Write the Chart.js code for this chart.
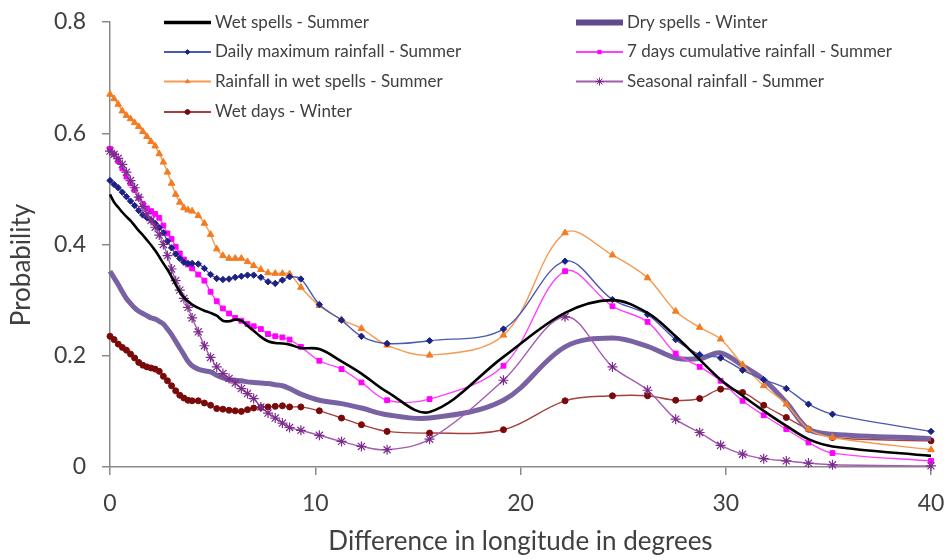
<!DOCTYPE html>
<html>
<head>
<meta charset="utf-8">
<title>Probability vs difference in longitude</title>
<script src="https://cdn.jsdelivr.net/npm/chart.js@4.4.1/dist/chart.umd.min.js"></script>
<style>
  html, body { margin: 0; padding: 0; background: #ffffff; }
  #wrap { width: 948px; height: 559px; }
</style>
</head>
<body>
<div id="wrap"><canvas id="chart" width="948" height="559"></canvas></div>
<script>
// Difference in longitude (degrees) at which each probability was evaluated
const longitudeDiff = [
  0, 0.2, 0.4, 0.6, 0.8, 1.0, 1.2, 1.4, 1.6, 1.8, 2.0, 2.2, 2.4, 2.6, 2.8,
  3.0, 3.2, 3.4, 3.6, 3.8, 4.0, 4.3, 4.6, 4.9, 5.2, 5.5, 5.8, 6.1, 6.4, 6.7,
  7.0, 7.35, 7.7, 8.05, 8.4, 8.75, 9.3, 10.2, 11.28, 12.25, 13.5, 15.57,
  19.17, 22.17, 24.48, 26.19, 27.56, 28.73, 29.75, 30.82, 31.85, 32.95,
  34.03, 35.2, 40
];

const wetSpellsSummer = [
  0.490, 0.476, 0.467, 0.458, 0.450, 0.443, 0.434, 0.425, 0.417, 0.408, 0.399, 0.389, 0.378, 0.366, 0.355,
  0.342, 0.328, 0.315, 0.305, 0.298, 0.292, 0.286, 0.281, 0.277, 0.272, 0.263, 0.262, 0.265, 0.263, 0.254,
  0.245, 0.234, 0.226, 0.223, 0.222, 0.220, 0.214, 0.212, 0.190, 0.168, 0.135, 0.099,
  0.198, 0.277, 0.300, 0.277, 0.235, 0.193, 0.157, 0.128, 0.101, 0.074,
  0.050, 0.037, 0.020
];

const drySpellsWinter = [
  0.352, 0.340, 0.328, 0.315, 0.303, 0.294, 0.286, 0.280, 0.276, 0.272, 0.268, 0.266, 0.262, 0.257, 0.248,
  0.238, 0.226, 0.214, 0.202, 0.190, 0.182, 0.176, 0.173, 0.171, 0.165, 0.160, 0.157, 0.156, 0.155, 0.153,
  0.152, 0.151, 0.150, 0.148, 0.146, 0.141, 0.131, 0.120, 0.114, 0.106, 0.094, 0.088,
  0.120, 0.216, 0.232, 0.217, 0.196, 0.195, 0.205, 0.182, 0.157, 0.116,
  0.068, 0.059, 0.051
];

const dailyMaxRainSummer = [
  0.515, 0.508, 0.502, 0.494, 0.486, 0.478, 0.470, 0.461, 0.453, 0.448, 0.444, 0.438, 0.430, 0.421, 0.406,
  0.394, 0.383, 0.375, 0.368, 0.366, 0.366, 0.365, 0.357, 0.346, 0.339, 0.337, 0.338, 0.341, 0.343, 0.345,
  0.345, 0.341, 0.333, 0.330, 0.336, 0.342, 0.338, 0.292, 0.264, 0.235, 0.222, 0.227,
  0.248, 0.370, 0.301, 0.274, 0.229, 0.202, 0.196, 0.174, 0.157, 0.141,
  0.113, 0.095, 0.064
];

const cumulRain7DaySummer = [
  0.572, 0.562, 0.550, 0.537, 0.522, 0.510, 0.498, 0.484, 0.473, 0.465, 0.460, 0.455, 0.448, 0.434, 0.420,
  0.410, 0.396, 0.384, 0.373, 0.364, 0.357, 0.346, 0.335, 0.315, 0.298, 0.285, 0.276, 0.268, 0.263, 0.257,
  0.253, 0.248, 0.239, 0.235, 0.233, 0.229, 0.216, 0.191, 0.176, 0.152, 0.120, 0.122,
  0.182, 0.352, 0.289, 0.261, 0.204, 0.180, 0.155, 0.119, 0.093, 0.068,
  0.044, 0.025, 0.011
];

const rainInWetSpellsSummer = [
  0.670, 0.662, 0.652, 0.640, 0.632, 0.626, 0.619, 0.612, 0.603, 0.594, 0.585, 0.577, 0.563, 0.548, 0.530,
  0.510, 0.490, 0.476, 0.466, 0.462, 0.460, 0.452, 0.438, 0.418, 0.392, 0.380, 0.375, 0.375, 0.375, 0.369,
  0.362, 0.355, 0.349, 0.348, 0.348, 0.347, 0.323, 0.290, 0.265, 0.249, 0.219, 0.201,
  0.237, 0.421, 0.381, 0.340, 0.280, 0.251, 0.230, 0.184, 0.146, 0.113,
  0.068, 0.053, 0.031
];

const seasonalRainSummer = [
  0.568, 0.562, 0.555, 0.544, 0.530, 0.515, 0.502, 0.485, 0.468, 0.455, 0.443, 0.431, 0.417, 0.400, 0.380,
  0.356, 0.335, 0.318, 0.303, 0.287, 0.268, 0.243, 0.218, 0.197, 0.180, 0.168, 0.159, 0.151, 0.141, 0.132,
  0.123, 0.108, 0.097, 0.088, 0.079, 0.071, 0.066, 0.057, 0.046, 0.037, 0.031, 0.050,
  0.156, 0.270, 0.180, 0.138, 0.086, 0.062, 0.039, 0.023, 0.015, 0.011,
  0.007, 0.004, 0.002
];

const wetDaysWinter = [
  0.235, 0.229, 0.221, 0.215, 0.210, 0.203, 0.196, 0.188, 0.183, 0.180, 0.178, 0.176, 0.172, 0.163, 0.155,
  0.146, 0.137, 0.129, 0.124, 0.120, 0.119, 0.119, 0.115, 0.111, 0.105, 0.104, 0.102, 0.101, 0.100, 0.103,
  0.106, 0.107, 0.108, 0.109, 0.110, 0.108, 0.108, 0.101, 0.088, 0.076, 0.064, 0.061,
  0.067, 0.119, 0.128, 0.128, 0.120, 0.123, 0.140, 0.134, 0.111, 0.089,
  0.068, 0.053, 0.047
];

// Axis tick values
const xTickValues = [0, 10, 20, 30, 40];
const yTickValues = [0, 0.2, 0.4, 0.6, 0.8];

const FONT = 'Lato, "Open Sans", sans-serif';
const TEXT = '#404040';
const AXIS = '#8a8a8a';

function toPoints(values) {
  return longitudeDiff.map((x, i) => ({ x: x, y: values[i] }));
}

function series(label, values, style) {
  return Object.assign({
    label: label,
    data: toPoints(values),
    tension: 0.35,
    fill: false,
    clip: false,
    pointRadius: 0,
    pointHoverRadius: 0,
    pointBorderWidth: 1
  }, style);
}

// Datasets are listed row by row, the way the two-column key reads
const datasets = [
  series('Wet spells - Summer', wetSpellsSummer, {
    borderColor: '#000000', borderWidth: 2.6, order: 1
  }),
  series('Dry spells - Winter', drySpellsWinter, {
    borderColor: '#7862a3', borderWidth: 5, order: 6, legendLineColor: '#5f4a8c'
  }),
  series('Daily maximum rainfall - Summer', dailyMaxRainSummer, {
    borderColor: '#4a59b3', borderWidth: 1.4, order: 3,
    pointStyle: 'rectRot', pointRadius: 3.2,
    pointBackgroundColor: '#1c2183', pointBorderColor: '#1c2183'
  }),
  series('7 days cumulative rainfall - Summer', cumulRain7DaySummer, {
    borderColor: '#ff40ff', borderWidth: 1.4, order: 4,
    pointStyle: 'rect', pointRadius: 3.4,
    pointBackgroundColor: '#ff00ff', pointBorderColor: '#ff00ff'
  }),
  series('Rainfall in wet spells - Summer', rainInWetSpellsSummer, {
    borderColor: '#f59a50', borderWidth: 1.4, order: 5,
    pointStyle: 'triangle', pointRadius: 3.8,
    pointBackgroundColor: '#f47b20', pointBorderColor: '#f47b20'
  }),
  series('Seasonal rainfall - Summer', seasonalRainSummer, {
    borderColor: '#a45bb0', borderWidth: 1.4, order: 2,
    pointStyle: 'star', pointRadius: 5, pointBorderWidth: 1.2,
    pointBackgroundColor: '#7b2c8c', pointBorderColor: '#7b2c8c'
  }),
  series('Wet days - Winter', wetDaysWinter, {
    borderColor: '#a3403d', borderWidth: 1.4, order: 7,
    pointStyle: 'circle', pointRadius: 3,
    pointBackgroundColor: '#7a0a0a', pointBorderColor: '#7a0a0a'
  })
];

// Two-column key drawn inside the top of the plot
const cornerLegend = {
  id: 'cornerLegend',
  afterDraw(chart, args, opts) {
    const ctx = chart.ctx;
    ctx.save();
    ctx.font = opts.fontSize + 'px ' + FONT;
    ctx.textBaseline = 'middle';
    ctx.textAlign = 'left';
    chart.data.datasets.forEach((ds, i) => {
      const col = opts.columns[i % 2];
      const y = opts.rows[Math.floor(i / 2)];
      const x0 = col, x1 = col + opts.lineLength;
      ctx.beginPath();
      ctx.strokeStyle = ds.legendLineColor || ds.borderColor;
      ctx.lineWidth = Math.max(ds.borderWidth, 2) + (ds.borderWidth > 2 ? 0.8 : 0);
      ctx.moveTo(x0, y);
      ctx.lineTo(x1, y);
      ctx.stroke();
      if (ds.pointRadius > 0 && Chart.helpers && Chart.helpers.drawPoint) {
        ctx.fillStyle = ds.pointBackgroundColor;
        ctx.strokeStyle = ds.pointBorderColor;
        ctx.lineWidth = 1;
        Chart.helpers.drawPoint(ctx, {
          pointStyle: ds.pointStyle,
          radius: ds.pointStyle === 'star' ? 4 : 2.4,
          borderWidth: 1,
          rotation: 0
        }, (x0 + x1) / 2, y);
      }
      ctx.fillStyle = TEXT;
      ctx.fillText(ds.label, x1 + opts.gap, y);
    });
    ctx.restore();
  }
};

// Vertical axis caption
const yCaption = {
  id: 'yCaption',
  afterDraw(chart, args, opts) {
    const ctx = chart.ctx;
    ctx.save();
    ctx.translate(opts.x, opts.y);
    ctx.rotate(-Math.PI / 2);
    ctx.font = opts.fontSize + 'px ' + FONT;
    ctx.fillStyle = TEXT;
    ctx.textAlign = 'center';
    ctx.textBaseline = 'middle';
    ctx.fillText(opts.text, 0, 0);
    ctx.restore();
  }
};

new Chart(document.getElementById('chart'), {
  type: 'line',
  data: { datasets: datasets },
  plugins: [cornerLegend, yCaption],
  options: {
    responsive: false,
    animation: false,
    devicePixelRatio: 1,
    layout: { padding: { left: 0, right: 17, top: 22, bottom: 0 } },
    plugins: {
      legend: { display: false },
      tooltip: { enabled: false },
      cornerLegend: {
        columns: [164, 576],
        rows: [22.5, 52, 81.5, 112],
        lineLength: 47,
        gap: 4,
        fontSize: 17
      },
      yCaption: { text: 'Probability', x: 22, y: 265, fontSize: 26 }
    },
    scales: {
      x: {
        type: 'linear',
        min: 0,
        max: 40,
        afterBuildTicks: (scale) => { scale.ticks = xTickValues.map(v => ({ value: v })); },
        afterFit: (scale) => {
          scale.height = 92;
          scale.paddingLeft = 0;
          scale.paddingRight = 0;
        },
        ticks: {
          padding: 15,
          color: TEXT,
          font: { family: FONT, size: 23 },
          maxRotation: 0,
          callback: (v) => String(v)
        },
        grid: {
          drawOnChartArea: false,
          drawTicks: true,
          tickLength: 8,
          color: AXIS,
          lineWidth: 1.5
        },
        border: { display: true, color: AXIS, width: 1.5 },
        title: {
          display: true,
          text: 'Difference in longitude in degrees',
          color: TEXT,
          font: { family: FONT, size: 26 },
          padding: { top: 4, bottom: 2 }
        }
      },
      y: {
        type: 'linear',
        min: 0,
        max: 0.8,
        afterBuildTicks: (scale) => { scale.ticks = yTickValues.map(v => ({ value: v })); },
        afterFit: (scale) => {
          scale.width = 110;
          scale.paddingTop = 0;
          scale.paddingBottom = 0;
        },
        ticks: {
          padding: 16,
          color: TEXT,
          font: { family: FONT, size: 23 },
          callback: (v) => (v === 0 ? '0' : Number(v).toFixed(1))
        },
        grid: {
          drawOnChartArea: false,
          drawTicks: true,
          tickLength: 8,
          color: AXIS,
          lineWidth: 1.5
        },
        border: { display: true, color: AXIS, width: 1.5 }
      }
    }
  }
});
</script>
</body>
</html>
